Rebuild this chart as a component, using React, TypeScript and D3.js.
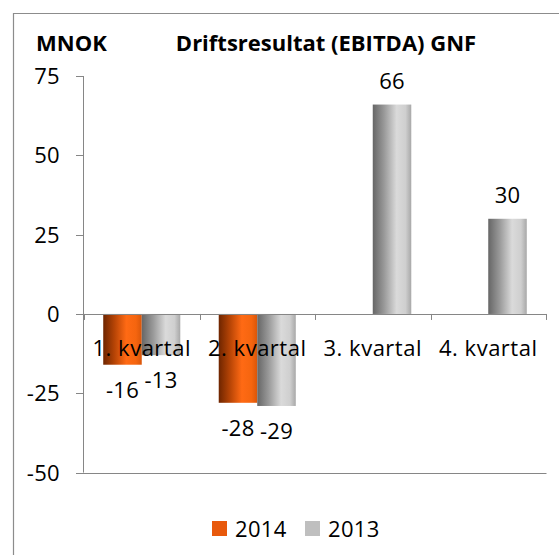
import React from 'react';
import * as d3 from 'd3';

// Driftsresultat (EBITDA) GNF, MNOK per kvartal, 2014 vs 2013

const categories = ['1. kvartal', '2. kvartal', '3. kvartal', '4. kvartal'];
const seriesNames = ['2014', '2013'];
const values2014: (number | null)[] = [-16, -28, null, null];
const values2013: (number | null)[] = [-13, -29, 66, 30];
const yTicks = [-50, -25, 0, 25, 50, 75];

const W = 559;
const H = 555;
const FONT = '"Open Sans", Calibri, sans-serif';
const AXIS = '#868686';

const seriesColors: Record<string, string> = {'2014': '#e8590c', '2013': '#bfbfbf'};

export default function App() {
  const x0 = d3.scaleBand<string>()
    .domain(categories)
    .range([84, 546])
    .paddingInner(0.333)
    .paddingOuter(0.1665);
  const x1 = d3.scaleBand<string>()
    .domain(seriesNames)
    .range([0, x0.bandwidth()]);
  const y = d3.scaleLinear().domain([-50, 75]).range([472.6, 76]);

  const rows = categories.map((c, i) => ({
    cat: c,
    vals: [
      {name: '2014', v: values2014[i]},
      {name: '2013', v: values2013[i]},
    ],
  }));

  // category boundaries for the tick marks on the zero line
  const bounds = categories.map((c) => x0(c)! - (x0.step() - x0.bandwidth()) / 2)
    .concat([x0.range()[1]]);

  return (
    <svg width={W} height={H} style={{position: 'absolute', left: 0, top: 0, background: '#fff'}}
      fontFamily={FONT}>
      <defs>
        <linearGradient id="g2014" x1="0" x2="1" y1="0" y2="0">
          <stop offset="0" stopColor="#6e2500" />
          <stop offset="0.3" stopColor="#b84506" />
          <stop offset="0.6" stopColor="#ff6a14" />
          <stop offset="0.85" stopColor="#f5650f" />
          <stop offset="1" stopColor="#d9560a" />
        </linearGradient>
        <linearGradient id="g2013" x1="0" x2="1" y1="0" y2="0">
          <stop offset="0" stopColor="#666666" />
          <stop offset="0.3" stopColor="#9a9a9a" />
          <stop offset="0.62" stopColor="#dadada" />
          <stop offset="0.85" stopColor="#cfcfcf" />
          <stop offset="1" stopColor="#a8a8a8" />
        </linearGradient>
      </defs>

      {/* outer chart frame */}
      <path d={`M13.5,${H} V13.5 H${W}`} fill="none" stroke="#8c8c8c" strokeWidth={1.2} />

      {/* titles */}
      <text x={36} y={51} fontSize={22} fontWeight="bold">MNOK</text>
      <text x={326} y={51} fontSize={22} fontWeight="bold" textAnchor="middle">
        Driftsresultat (EBITDA) GNF
      </text>

      {/* bars */}
      {rows.map((r) => (
        <g key={r.cat} transform={`translate(${x0(r.cat)},0)`}>
          {r.vals.filter((d) => d.v !== null).map((d) => {
            const v = d.v as number;
            return (
              <rect key={d.name}
                x={x1(d.name)}
                y={Math.min(y(v), y(0))}
                width={x1.bandwidth()}
                height={Math.abs(y(v) - y(0))}
                fill={`url(#g${d.name})`} />
            );
          })}
        </g>
      ))}

      {/* y axis */}
      <line x1={83.5} x2={83.5} y1={y(75)} y2={y(-50)} stroke={AXIS} />
      {yTicks.map((t) => (
        <g key={t}>
          <line x1={76} x2={84} y1={Math.round(y(t)) + 0.5} y2={Math.round(y(t)) + 0.5} stroke={AXIS} />
          <text x={60} y={y(t) + 8} fontSize={22} textAnchor="end" letterSpacing={0.3}>{t}</text>
        </g>
      ))}
      {/* bottom line at -50 */}
      <line x1={83.5} x2={546.5} y1={Math.round(y(-50)) + 0.5} y2={Math.round(y(-50)) + 0.5} stroke={AXIS} />

      {/* category axis at zero */}
      <line x1={83.5} x2={546.5} y1={Math.round(y(0)) + 0.5} y2={Math.round(y(0)) + 0.5} stroke={AXIS} />
      {bounds.map((b, i) => (
        <line key={i} x1={Math.round(b) + 0.5} x2={Math.round(b) + 0.5}
          y1={y(0)} y2={y(0) + 6} stroke={AXIS} />
      ))}

      {/* category labels */}
      {categories.map((c) => (
        <text key={c} x={x0(c)! + x0.bandwidth() / 2} y={356} fontSize={22}
          textAnchor="middle" letterSpacing={0.5}>{c}</text>
      ))}

      {/* data labels */}
      {rows.map((r) => r.vals.filter((d) => d.v !== null).map((d) => {
        const v = d.v as number;
        const cx = x0(r.cat)! + x1(d.name)! + x1.bandwidth() / 2;
        const ty = v >= 0 ? y(v) - 16 : y(v) + 33;
        return (
          <text key={r.cat + d.name} x={cx} y={ty} fontSize={22} textAnchor="middle"
            letterSpacing={0.3}>{v}</text>
        );
      }))}

      {/* legend */}
      {seriesNames.map((s, i) => (
        <g key={s} transform={`translate(${212 + i * 93},521)`}>
          <rect x={0} y={0} width={15} height={15} fill={seriesColors[s]} />
          <text x={23} y={16} fontSize={22} letterSpacing={0.3}>{s}</text>
        </g>
      ))}
    </svg>
  );
}
